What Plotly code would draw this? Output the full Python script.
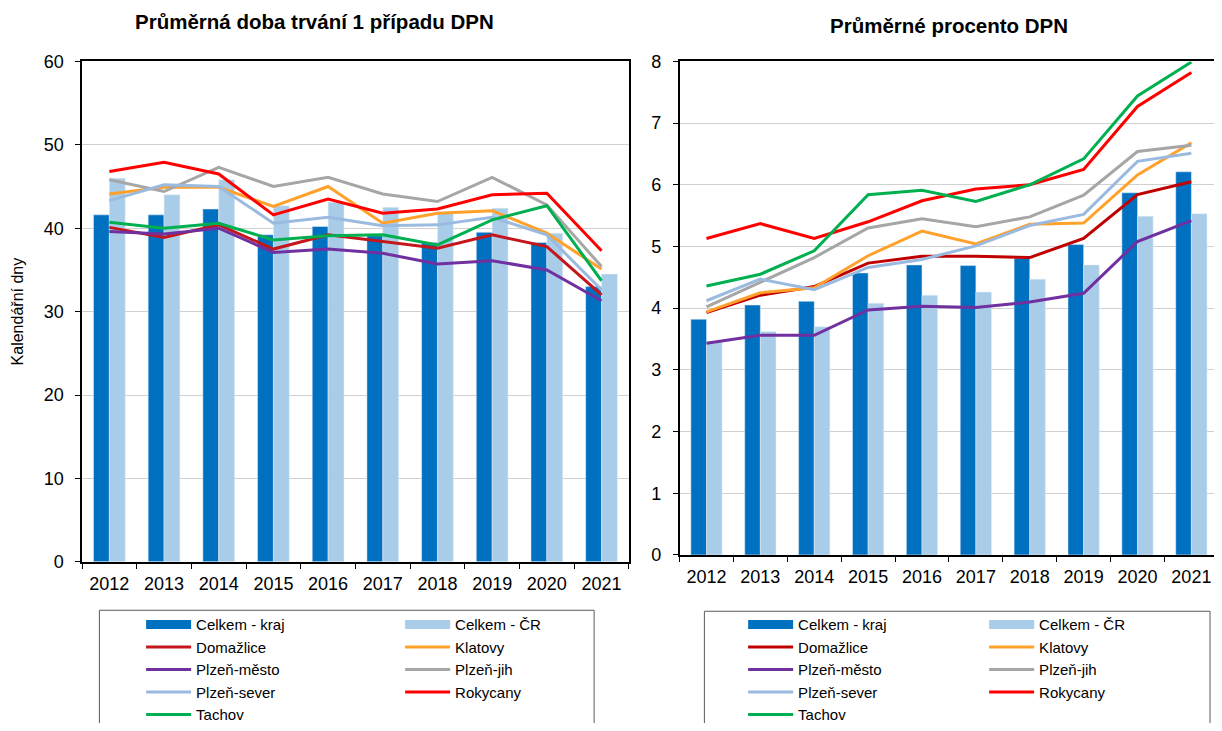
import plotly.graph_objects as go

# ---------------------------------------------------------------------
# Data
# ---------------------------------------------------------------------
YEARS = ["2012", "2013", "2014", "2015", "2016", "2017", "2018", "2019", "2020", "2021"]

# Left panel: average duration of one case (calendar days)
DOBA_KRAJ = [41.6, 41.6, 42.3, 39.2, 40.2, 39.1, 38.3, 39.5, 38.3, 33.0]
DOBA_CR = [46.0, 44.0, 45.8, 42.7, 43.1, 42.5, 41.9, 42.4, 39.4, 34.5]
DOBA_DOMAZLICE = [40.1, 38.9, 40.4, 37.5, 39.2, 38.4, 37.6, 39.2, 37.8, 32.0]
DOBA_KLATOVY = [44.1, 44.9, 44.9, 42.6, 45.0, 40.6, 41.8, 42.1, 39.4, 35.1]
DOBA_PLZEN_MESTO = [39.6, 39.3, 40.0, 37.1, 37.5, 37.0, 35.7, 36.1, 35.0, 31.3]
DOBA_PLZEN_JIH = [45.8, 44.4, 47.3, 45.0, 46.1, 44.1, 43.2, 46.1, 42.8, 35.4]
DOBA_PLZEN_SEVER = [43.3, 45.2, 45.0, 40.6, 41.3, 40.3, 40.4, 41.3, 39.2, 32.6]
DOBA_ROKYCANY = [46.8, 47.9, 46.5, 41.6, 43.5, 41.8, 42.3, 44.0, 44.2, 37.3]
DOBA_TACHOV = [40.7, 40.0, 40.6, 38.6, 39.1, 39.2, 38.0, 41.0, 42.7, 33.7]

# Right panel: average percentage of incapacity
PCT_KRAJ = [3.82, 4.05, 4.11, 4.57, 4.70, 4.69, 4.81, 5.03, 5.87, 6.21]
PCT_CR = [3.45, 3.62, 3.70, 4.08, 4.21, 4.26, 4.47, 4.70, 5.49, 5.53]
PCT_DOMAZLICE = [3.93, 4.21, 4.35, 4.73, 4.84, 4.84, 4.82, 5.13, 5.84, 6.05]
PCT_KLATOVY = [3.94, 4.25, 4.33, 4.85, 5.25, 5.04, 5.36, 5.38, 6.16, 6.68]
PCT_PLZEN_MESTO = [3.43, 3.56, 3.56, 3.97, 4.03, 4.01, 4.10, 4.24, 5.08, 5.42]
PCT_PLZEN_JIH = [4.02, 4.42, 4.82, 5.30, 5.45, 5.32, 5.48, 5.83, 6.54, 6.64]
PCT_PLZEN_SEVER = [4.12, 4.47, 4.30, 4.66, 4.79, 5.01, 5.34, 5.52, 6.38, 6.51]
PCT_ROKYCANY = [5.13, 5.37, 5.13, 5.40, 5.74, 5.93, 6.00, 6.25, 7.27, 7.82]
PCT_TACHOV = [4.36, 4.55, 4.93, 5.84, 5.91, 5.73, 6.00, 6.42, 7.44, 7.99]

FONT = "Liberation Sans, Arial, sans-serif"

# the page body adds an 8px margin on every side; keep the figure inside it
# and place things by their pixel position in the 1222x731 target
PAGE_PAD = 8
W, H = 1222 - 2 * PAGE_PAD, 731 - 2 * PAGE_PAD


def px(x):
    return (x - PAGE_PAD) / (1222 - PAGE_PAD)


def py(y):
    return 1 - (y - PAGE_PAD) / (731 - PAGE_PAD)


C_KRAJ = "#0070C0"
C_CR = "#A9CDE8"
C_KLATOVY = "#FFA12B"
C_MESTO = "#7030A0"
C_JIH = "#A6A6A6"
C_SEVER = "#9BBAE0"
C_ROKYCANY = "#FF0000"
C_TACHOV = "#00B050"


def add_panel(fig, xa, ya, legend, kraj, cr, lines):
    """Bars for kraj / CR plus one line per district."""
    sfx = legend
    # bars; their legend entries are drawn as wide swatches below
    fig.add_trace(go.Bar(x=YEARS, y=kraj, name="Celkem - kraj", marker_color=C_KRAJ,
                         xaxis=xa, yaxis=ya, showlegend=False, legendgroup=sfx + "a"))
    fig.add_trace(go.Bar(x=YEARS, y=cr, name="Celkem - ČR", marker_color=C_CR,
                         xaxis=xa, yaxis=ya, showlegend=False, legendgroup=sfx + "b"))
    for name, color, grp in (("Celkem - kraj", C_KRAJ, "a"), ("Celkem - ČR", C_CR, "b")):
        fig.add_trace(go.Scatter(x=[None], y=[None], name=name, mode="lines",
                                 line=dict(color=color, width=9), hoverinfo="skip",
                                 xaxis=xa, yaxis=ya, legend=legend, legendgroup=sfx + grp))
    for i, (name, vals, color) in enumerate(lines):
        grp = sfx + ("a" if i % 2 == 0 else "b")
        fig.add_trace(go.Scatter(x=YEARS, y=vals, name=name, mode="lines",
                                 line=dict(color=color, width=3),
                                 xaxis=xa, yaxis=ya, legend=legend, legendgroup=grp))


fig = go.Figure()

add_panel(fig, "x", "y", "legend", DOBA_KRAJ, DOBA_CR, [
    ("Domažlice", DOBA_DOMAZLICE, "#C4161C"),
    ("Klatovy", DOBA_KLATOVY, C_KLATOVY),
    ("Plzeň-město", DOBA_PLZEN_MESTO, C_MESTO),
    ("Plzeň-jih", DOBA_PLZEN_JIH, C_JIH),
    ("Plzeň-sever", DOBA_PLZEN_SEVER, C_SEVER),
    ("Rokycany", DOBA_ROKYCANY, C_ROKYCANY),
    ("Tachov", DOBA_TACHOV, C_TACHOV),
])
add_panel(fig, "x2", "y2", "legend2", PCT_KRAJ, PCT_CR, [
    ("Domažlice", PCT_DOMAZLICE, "#C00000"),
    ("Klatovy", PCT_KLATOVY, C_KLATOVY),
    ("Plzeň-město", PCT_PLZEN_MESTO, C_MESTO),
    ("Plzeň-jih", PCT_PLZEN_JIH, C_JIH),
    ("Plzeň-sever", PCT_PLZEN_SEVER, C_SEVER),
    ("Rokycany", PCT_ROKYCANY, C_ROKYCANY),
    ("Tachov", PCT_TACHOV, C_TACHOV),
])

xcommon = dict(type="category", showline=True, linecolor="black", linewidth=1.5,
               ticks="outside", ticklen=5, tickcolor="black", tickson="boundaries",
               showgrid=False, automargin=False, ticklabelstandoff=5,
               tickfont=dict(size=18, color="black"))
ycommon = dict(showline=True, linecolor="black", linewidth=1.5, ticks="outside",
               ticklen=5, tickcolor="black", showgrid=True, gridcolor="#D0D0D0",
               gridwidth=1, zeroline=False, automargin=False, ticklabelstandoff=8,
               tickfont=dict(size=18, color="black"))

legend_common = dict(orientation="h", traceorder="grouped", xanchor="left", yanchor="top",
                     bgcolor="rgba(0,0,0,0)", borderwidth=0, itemwidth=45,
                     font=dict(size=15, family=FONT, color="black"))

fig.update_layout(
    width=W, height=H,
    margin=dict(l=0, r=0, t=0, b=0, autoexpand=False),
    paper_bgcolor="white", plot_bgcolor="white",
    font=dict(family=FONT, color="black"),
    barmode="group", bargap=0.42, bargroupgap=0,
    xaxis=dict(xcommon, domain=[px(82.5), px(633)], mirror=True, anchor="y"),
    yaxis=dict(ycommon, domain=[py(568), py(62)], range=[0, 60], dtick=10,
               mirror=True, anchor="x",
               title=dict(text="Kalendářní dny", font=dict(size=16), standoff=16)),
    xaxis2=dict(xcommon, domain=[px(684), 1.0], range=[-0.5, 9.42], mirror=True,
                anchor="y2"),
    yaxis2=dict(ycommon, domain=[py(561), py(62)], range=[0, 8], dtick=1, anchor="x2"),
    legend=dict(legend_common, x=px(142), y=py(615), entrywidth=199),
    legend2=dict(legend_common, x=px(748), y=py(615), entrywidth=181),
    annotations=[
        dict(text="<b>Průměrná doba trvání 1 případu DPN</b>", x=px(317), y=py(22),
             xref="paper", yref="paper", xanchor="center", yanchor="middle",
             showarrow=False, font=dict(size=20.5)),
        dict(text="<b>Průměrné procento DPN</b>", x=px(955), y=py(26),
             xref="paper", yref="paper", xanchor="center", yanchor="middle",
             showarrow=False, font=dict(size=20.5)),
    ],
    shapes=[
        dict(type="rect", xref="paper", yref="paper", x0=px(100), x1=px(598),
             y0=-0.05, y1=py(617), line=dict(color="#595959", width=1)),
        dict(type="rect", xref="paper", yref="paper", x0=px(709), x1=px(1218),
             y0=-0.05, y1=py(618), line=dict(color="#595959", width=1)),
    ],
)

fig.write_html("out.html")
